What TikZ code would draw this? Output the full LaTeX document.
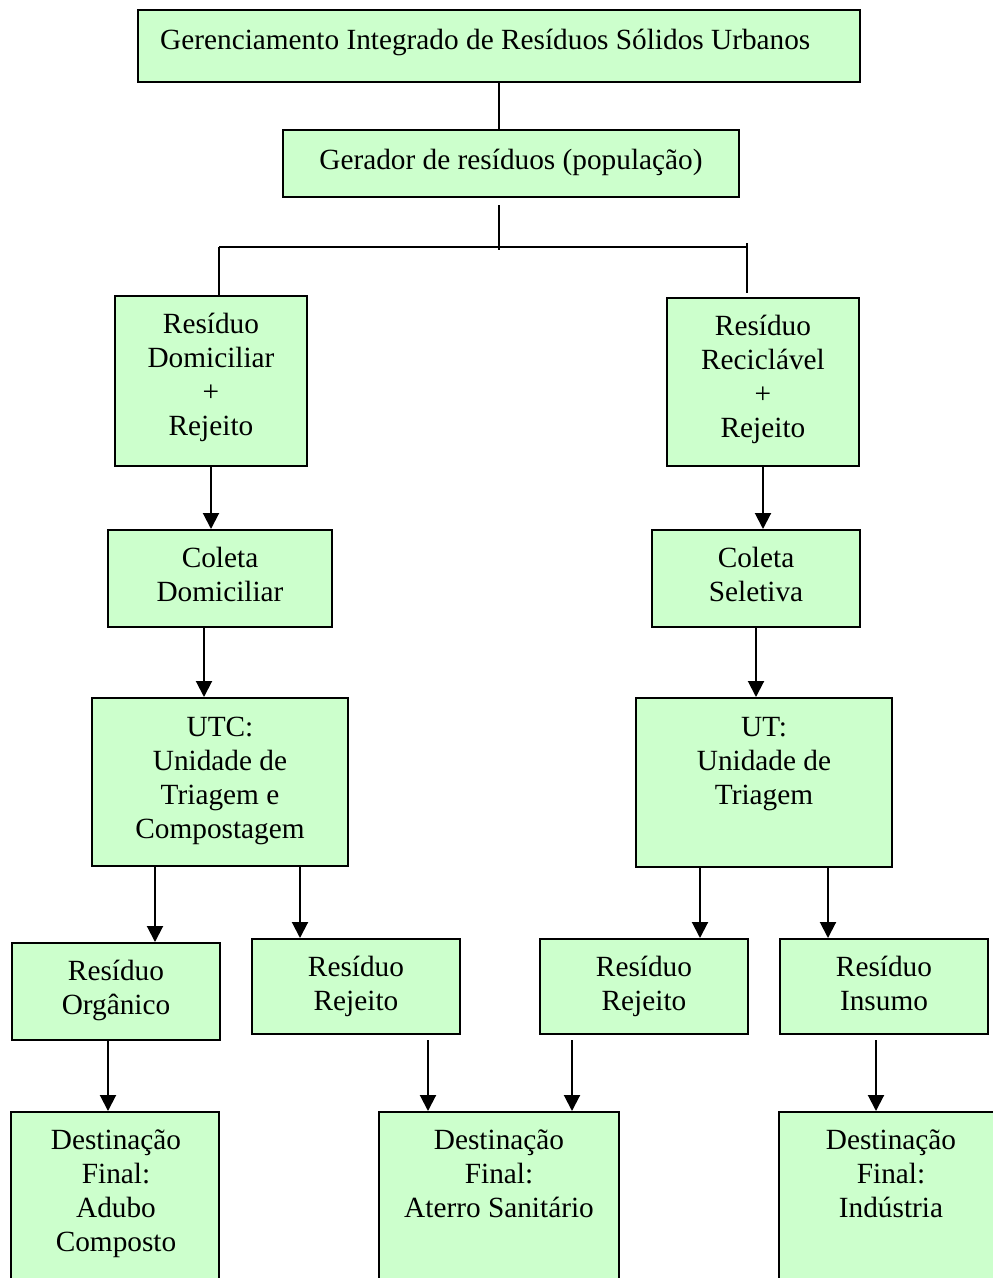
\documentclass[tikz,border=0pt]{standalone}
\usepackage{fontspec}
\setmainfont{Liberation Serif}
\usetikzlibrary{arrows.meta}
\definecolor{boxgreen}{RGB}{204,255,204}
\newcommand\boxfont{\fontsize{29.3}{34}\selectfont}
\tikzset{
  box/.style={draw=black, fill=boxgreen, line width=2pt, inner sep=0pt, rectangle},
  txt/.style={inner sep=0pt, align=center, anchor=north, yshift=23.8pt, font=\boxfont},
  ln/.style={line width=2pt},
  arr/.style={ln, -{Triangle[length=16pt,width=16pt]}},
}
\begin{document}
\begin{tikzpicture}[x=1pt, y=-1pt]
\useasboundingbox (0,0) rectangle (993,1278);
\clip (0,0) rectangle (993,1278);

% boxes
\node[box, minimum width=722pt, minimum height=72pt] (title)   at (499,46) {};
\node[box, minimum width=456pt, minimum height=67pt] (gerador) at (511,163.5) {};
\node[box, minimum width=192pt, minimum height=170pt] (rdr)    at (211,381) {};
\node[box, minimum width=192pt, minimum height=168pt] (rrr)    at (763,382) {};
\node[box, minimum width=224pt, minimum height=97pt]  (cd)     at (220,578.5) {};
\node[box, minimum width=208pt, minimum height=97pt]  (cs)     at (756,578.5) {};
\node[box, minimum width=256pt, minimum height=168pt] (utc)    at (220,782) {};
\node[box, minimum width=256pt, minimum height=169pt] (ut)     at (764,782.5) {};
\node[box, minimum width=208pt, minimum height=97pt]  (org)    at (116,991.5) {};
\node[box, minimum width=208pt, minimum height=95pt]  (rejL)   at (356,986.5) {};
\node[box, minimum width=208pt, minimum height=95pt]  (rejR)   at (644,986.5) {};
\node[box, minimum width=208pt, minimum height=95pt]  (ins)    at (884,986.5) {};
\node[box, minimum width=208pt, minimum height=198pt] (adubo)  at (115,1211) {};
\node[box, minimum width=240pt, minimum height=198pt] (aterro) at (499,1211) {};
\node[box, minimum width=224pt, minimum height=198pt] (ind)    at (891,1211) {};

% texts (placed by the baseline of their first line)
\node[inner sep=0pt, anchor=base west, font=\boxfont] (title-t) at (160,49)
  {Gerenciamento Integrado de Resíduos Sólidos Urbanos};
\node[txt] (gerador-t) at (511,169) {\strut Gerador de resíduos (população)};
\node[txt] (rdr-t)    at (211,333) {\strut Resíduo\\Domiciliar\\+\\Rejeito};
\node[txt] (rrr-t)    at (763,335) {\strut Resíduo\\Reciclável\\+\\Rejeito};
\node[txt] (cd-t)     at (220,567) {\strut Coleta\\Domiciliar};
\node[txt] (cs-t)     at (756,567) {\strut Coleta\\Seletiva};
\node[txt] (utc-t)    at (220,736) {\strut UTC:\\Unidade de\\Triagem e\\Compostagem};
\node[txt] (ut-t)     at (764,736) {\strut UT:\\Unidade de\\Triagem};
\node[txt] (org-t)    at (116,980) {\strut Resíduo\\Orgânico};
\node[txt] (rejL-t)   at (356,976) {\strut Resíduo\\Rejeito};
\node[txt] (rejR-t)   at (644,976) {\strut Resíduo\\Rejeito};
\node[txt] (ins-t)    at (884,976) {\strut Resíduo\\Insumo};
\node[txt] (adubo-t)  at (116,1149) {\strut Destinação\\Final:\\Adubo\\Composto};
\node[txt] (aterro-t) at (499,1149) {\strut Destinação\\Final:\\Aterro Sanitário};
\node[txt] (ind-t)    at (891,1149) {\strut Destinação\\Final:\\Indústria};

% tree connectors at the top
\coordinate (dropT) at (499,205);
\coordinate (dropB) at (499,250);
\coordinate (hl) at (219,247);
\coordinate (hr) at (747,247);
\coordinate (rtop) at (747,243);
\coordinate (rbot) at (747,293);
\draw[ln] (title.south) -- (title.south |- gerador.north);
\draw[ln] (dropT) -- (dropB);
\draw[ln] (hl) -- (hr);
\draw[ln] (hl) -- (rdr.north -| hl);
\draw[ln] (rtop) -- (rbot);

% arrows
\draw[arr] (rdr.south) -- (rdr.south |- cd.north);
\draw[arr] (rrr.south) -- (rrr.south |- cs.north);
\draw[arr] ([xshift=-16pt]cd.south) -- ([xshift=-16pt]cd.south |- utc.north);
\draw[arr] (cs.south) -- (cs.south |- ut.north);
\draw[arr] ([xshift=-65pt]utc.south) -- ([xshift=-65pt]utc.south |- org.north);
\draw[arr] ([xshift=80pt]utc.south) -- ([xshift=80pt]utc.south |- rejL.north);
\draw[arr] ([xshift=-64pt]ut.south) -- ([xshift=-64pt]ut.south |- rejR.north);
\draw[arr] ([xshift=64pt]ut.south) -- ([xshift=64pt]ut.south |- ins.north);
\draw[arr] ([xshift=-8pt]org.south) -- ([xshift=-8pt]org.south |- adubo.north);
\draw[arr] ([xshift=72pt,yshift=-5pt]rejL.south) -- ([xshift=72pt]rejL.south |- aterro.north);
\draw[arr] ([xshift=-72pt,yshift=-5pt]rejR.south) -- ([xshift=-72pt]rejR.south |- aterro.north);
\draw[arr] ([xshift=-8pt,yshift=-5pt]ins.south) -- ([xshift=-8pt]ins.south |- ind.north);
\end{tikzpicture}
\end{document}
